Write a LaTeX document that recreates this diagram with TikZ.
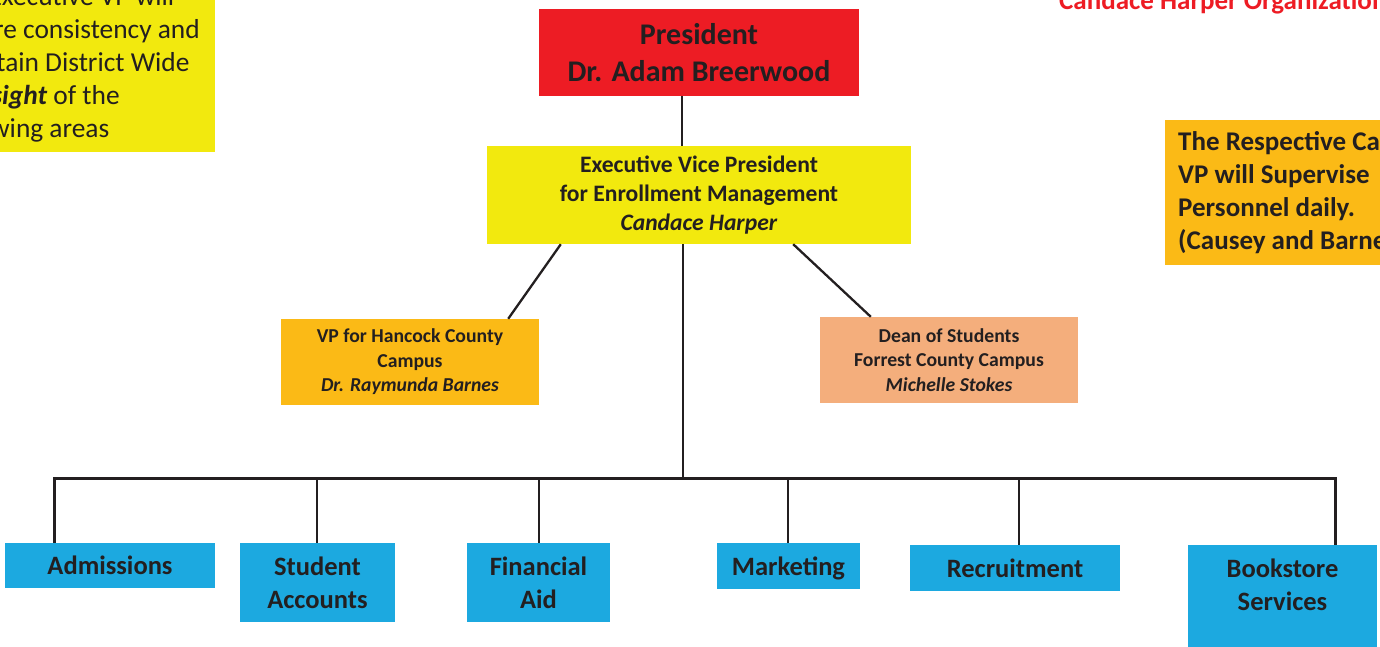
\documentclass[tikz,border=0pt]{standalone}
\usepackage{fontspec}
\setmainfont{Carlito}
\usetikzlibrary{calc}
\definecolor{ink}{HTML}{231F20}
\definecolor{pred}{HTML}{ED1C24}
\definecolor{pyellow}{HTML}{F2E90E}
\definecolor{porange}{HTML}{FBBA16}
\definecolor{psalmon}{HTML}{F4AE7C}
\definecolor{pblue}{HTML}{1CA9E0}
\begin{document}
\begin{tikzpicture}[x=1pt,y=-1pt,
  box/.style={fill=#1, draw=none, inner sep=0pt, text=ink, align=center},
  conn/.style={draw=ink, line width=2.3pt},
  busline/.style={draw=ink, line width=3pt, line join=miter},
  bigfont/.style={font=\fontsize{26.5}{33}\selectfont\bfseries},
  midfont/.style={font=\fontsize{23.6}{29}\selectfont\bfseries},
  smallfont/.style={font=\fontsize{19.7}{24.5}\selectfont\bfseries},
]
\useasboundingbox (0,0) rectangle (1380,646);
\clip (0,0) rectangle (1380,646);

% top boxes
\node[box=pred, minimum width=320pt, minimum height=87pt,
      font=\fontsize{30}{37}\selectfont\bfseries] (pres) at (699,52.5)
      {President\\Dr. Adam Breerwood};
\node[box=pyellow, minimum width=424pt, minimum height=98pt, midfont] (evp) at (699,195)
      {Executive Vice President\\for Enrollment Management\\\textit{Candace Harper}};
\node[box=porange, minimum width=258pt, minimum height=86pt, smallfont] (hancock) at (410,362)
      {VP for Hancock County\\Campus\\\textit{Dr. Raymunda Barnes}};
\node[box=psalmon, minimum width=258pt, minimum height=86pt, smallfont] (dean) at (949,360)
      {Dean of Students\\Forrest County Campus\\\textit{Michelle Stokes}};

% side notes
\node[box=pyellow, align=left, anchor=south east, inner xsep=15pt, inner ysep=0pt,
      minimum height=174pt, font=\fontsize{27.4}{33}\selectfont] (note) at (215,152)
      {The Executive VP will\\ensure consistency and\\maintain District Wide\\\textbf{\textit{oversight}} of the\\following areas};
\node[box=porange, align=left, anchor=north west, inner xsep=13pt, inner ysep=0pt,
      minimum height=145pt, font=\fontsize{27}{33}\selectfont\bfseries] (campusnote) at (1165,120)
      {The Respective Campus\\VP will Supervise\\Personnel daily.\\(Causey and Barnes)};
\node[anchor=base west, inner sep=0pt, text=pred, font=\fontsize{27}{33}\selectfont\bfseries]
      (title) at (1059,9) {Candace Harper Organizational Chart};

% bottom boxes
\node[box=pblue, minimum width=210pt, minimum height=45pt, bigfont] (adm) at (110,565.5) {Admissions};
\node[box=pblue, minimum width=155pt, minimum height=79pt, bigfont] (acct) at (317.5,582.5) {Student\\Accounts};
\node[box=pblue, minimum width=143pt, minimum height=79pt, bigfont] (aid) at (538.5,582.5) {Financial\\Aid};
\node[box=pblue, minimum width=143pt, minimum height=46pt, text depth=0pt, bigfont] (mkt) at (788.5,566) {Marketing};
\node[box=pblue, minimum width=210pt, minimum height=46pt, bigfont] (rec) at (1015,568) {Recruitment};
\node[box=pblue, minimum width=189pt, minimum height=110pt, anchor=north] (book) at (1282.5,545) {};
\node[inner sep=0pt, text=ink, align=center, bigfont] (booktxt) at (1282.5,584.5) {Bookstore\\Services};

% connectors
\coordinate (pc) at (682,0);
\coordinate (hub) at (683,478);
\coordinate (d1) at (54,478);
\coordinate (d2) at (317,478);
\coordinate (d3) at (539,478);
\coordinate (d4) at (788,478);
\coordinate (d5) at (1019,478);
\coordinate (d6) at (1335,478);

\draw[conn] (pres.south -| pc) -- (evp.north -| pc);
\draw[conn] (evp.south -| hub) -- (hub);
\draw[conn] ($(evp.south west)+(74,0)$) -- ($(hancock.north east)+(-31,0)$);
\draw[conn] ($(evp.south east)+(-118,0)$) -- ($(dean.north west)+(51,0)$);
\draw[busline] (d1 |- adm.north) -- (d1) -- (d6) -- (d6 |- book.north);
\draw[conn] (d2) -- (d2 |- acct.north);
\draw[conn] (d3) -- (d3 |- aid.north);
\draw[conn] (d4) -- (d4 |- mkt.north);
\draw[conn] (d5) -- (d5 |- rec.north);
\end{tikzpicture}
\end{document}
